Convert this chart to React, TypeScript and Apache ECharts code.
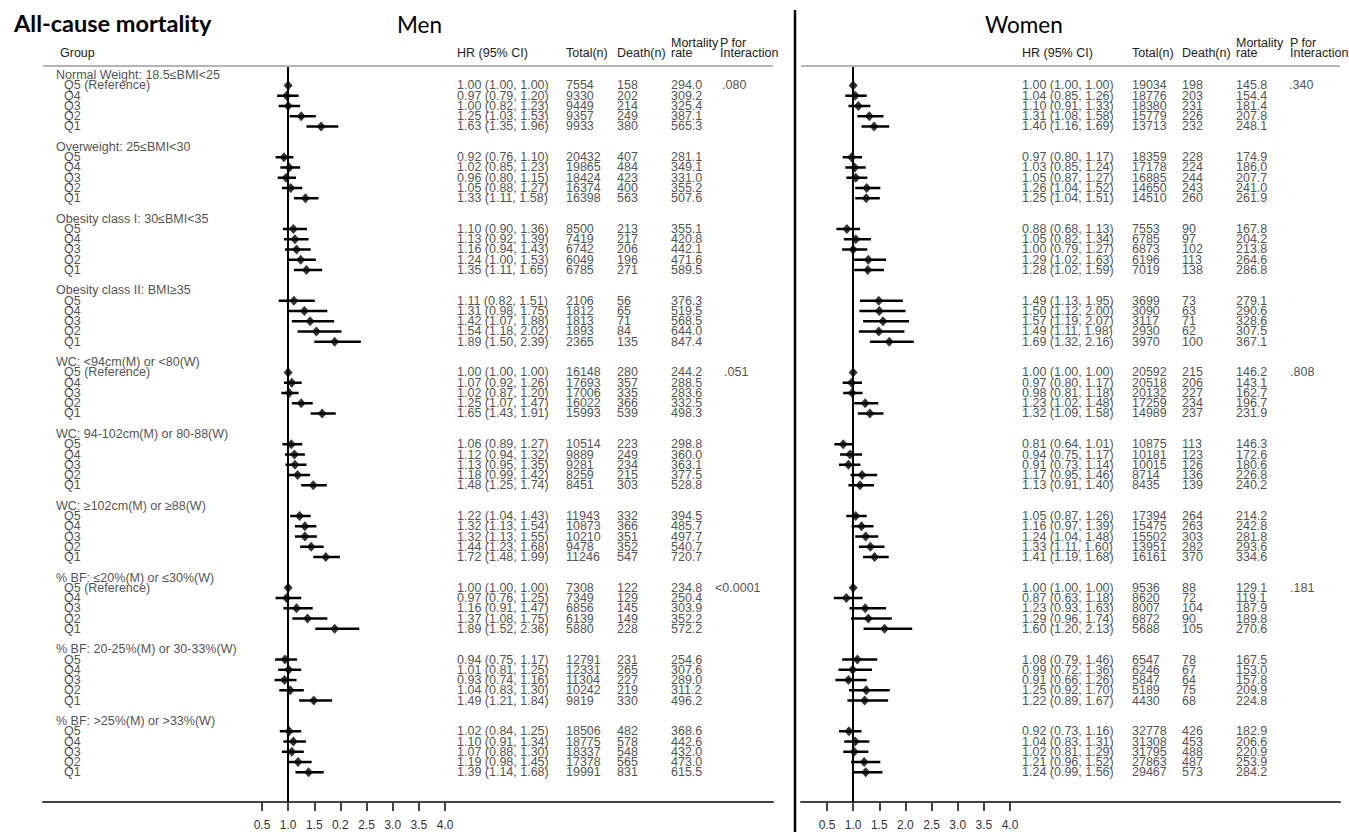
import React, { useEffect, useRef } from "react";
import * as echarts from "echarts";

// ---------------- DATA ----------------
const groupLabels = [
  "Normal Weight: 18.5≤BMI<25",
  "Overweight: 25≤BMI<30",
  "Obesity class I: 30≤BMI<35",
  "Obesity class II: BMI≥35",
  "WC: <94cm(M) or <80(W)",
  "WC: 94-102cm(M) or 80-88(W)",
  "WC: ≥102cm(M) or ≥88(W)",
  "% BF: ≤20%(M) or ≤30%(W)",
  "% BF: 20-25%(M) or 30-33%(W)",
  "% BF: >25%(M) or >33%(W)",
];
const referenceGroups = [0, 4, 7];
const quintiles = ["Q5", "Q4", "Q3", "Q2", "Q1"];

const menHR = [
  1.0, 0.97, 1.0, 1.25, 1.63,
  0.92, 1.02, 0.96, 1.05, 1.33,
  1.1, 1.13, 1.16, 1.24, 1.35,
  1.11, 1.31, 1.42, 1.54, 1.89,
  1.0, 1.07, 1.02, 1.25, 1.65,
  1.06, 1.12, 1.13, 1.18, 1.48,
  1.22, 1.32, 1.32, 1.44, 1.72,
  1.0, 0.97, 1.16, 1.37, 1.89,
  0.94, 1.01, 0.93, 1.04, 1.49,
  1.02, 1.1, 1.07, 1.19, 1.39,
];
const menLo = [
  1.0, 0.79, 0.82, 1.03, 1.35,
  0.76, 0.85, 0.8, 0.88, 1.11,
  0.9, 0.92, 0.94, 1.0, 1.11,
  0.82, 0.98, 1.07, 1.18, 1.5,
  1.0, 0.92, 0.87, 1.07, 1.43,
  0.89, 0.94, 0.95, 0.99, 1.25,
  1.04, 1.13, 1.13, 1.23, 1.48,
  1.0, 0.76, 0.91, 1.08, 1.52,
  0.75, 0.81, 0.74, 0.83, 1.21,
  0.84, 0.91, 0.88, 0.98, 1.14,
];
const menHi = [
  1.0, 1.2, 1.23, 1.53, 1.96,
  1.1, 1.23, 1.15, 1.27, 1.58,
  1.36, 1.39, 1.43, 1.53, 1.65,
  1.51, 1.75, 1.88, 2.02, 2.39,
  1.0, 1.26, 1.2, 1.47, 1.91,
  1.27, 1.32, 1.35, 1.42, 1.74,
  1.43, 1.54, 1.55, 1.68, 1.99,
  1.0, 1.25, 1.47, 1.75, 2.36,
  1.17, 1.25, 1.16, 1.3, 1.84,
  1.25, 1.34, 1.3, 1.45, 1.68,
];
const menTotal = [
  7554, 9330, 9449, 9357, 9933,
  20432, 19865, 18424, 16374, 16398,
  8500, 7419, 6742, 6049, 6785,
  2106, 1812, 1813, 1893, 2365,
  16148, 17693, 17006, 16022, 15993,
  10514, 9889, 9281, 8259, 8451,
  11943, 10873, 10210, 9478, 11246,
  7308, 7349, 6856, 6139, 5880,
  12791, 12331, 11304, 10242, 9819,
  18506, 18775, 18337, 17378, 19991,
];
const menDeath = [
  158, 202, 214, 249, 380,
  407, 484, 423, 400, 563,
  213, 217, 206, 196, 271,
  56, 65, 71, 84, 135,
  280, 357, 335, 366, 539,
  223, 249, 234, 215, 303,
  332, 366, 351, 352, 547,
  122, 129, 145, 149, 228,
  231, 265, 227, 219, 330,
  482, 578, 548, 565, 831,
];
const menRate = [
  "294.0", "309.2", "325.4", "387.1", "565.3",
  "281.1", "349.1", "331.0", "355.2", "507.6",
  "355.1", "420.8", "442.1", "471.6", "589.5",
  "376.3", "519.5", "568.5", "644.0", "847.4",
  "244.2", "288.5", "283.6", "332.5", "498.3",
  "298.8", "360.0", "363.1", "377.5", "528.8",
  "394.5", "485.7", "497.7", "540.7", "720.7",
  "234.8", "250.4", "303.9", "352.2", "572.2",
  "254.6", "307.6", "289.0", "311.2", "496.2",
  "368.6", "442.6", "432.0", "473.0", "615.5",
];
const menP = [".080", "", "", "", ".051", "", "", "<0.0001", "", ""];

const womenHR = [
  1.0, 1.04, 1.1, 1.31, 1.4,
  0.97, 1.03, 1.05, 1.26, 1.25,
  0.88, 1.05, 1.0, 1.29, 1.28,
  1.49, 1.5, 1.57, 1.49, 1.69,
  1.0, 0.97, 0.98, 1.23, 1.32,
  0.81, 0.94, 0.91, 1.17, 1.13,
  1.05, 1.16, 1.24, 1.33, 1.41,
  1.0, 0.87, 1.23, 1.29, 1.6,
  1.08, 0.99, 0.91, 1.25, 1.22,
  0.92, 1.04, 1.02, 1.21, 1.24,
];
const womenLo = [
  1.0, 0.85, 0.91, 1.08, 1.16,
  0.8, 0.85, 0.87, 1.04, 1.04,
  0.68, 0.82, 0.79, 1.02, 1.02,
  1.13, 1.12, 1.19, 1.11, 1.32,
  1.0, 0.8, 0.81, 1.02, 1.09,
  0.64, 0.75, 0.73, 0.95, 0.91,
  0.87, 0.97, 1.04, 1.11, 1.19,
  1.0, 0.63, 0.93, 0.96, 1.2,
  0.79, 0.72, 0.66, 0.92, 0.89,
  0.73, 0.83, 0.81, 0.96, 0.99,
];
const womenHi = [
  1.0, 1.26, 1.33, 1.58, 1.69,
  1.17, 1.24, 1.27, 1.52, 1.51,
  1.13, 1.34, 1.27, 1.63, 1.59,
  1.95, 2.0, 2.07, 1.98, 2.16,
  1.0, 1.17, 1.18, 1.48, 1.58,
  1.01, 1.17, 1.14, 1.46, 1.4,
  1.26, 1.39, 1.48, 1.6, 1.68,
  1.0, 1.18, 1.63, 1.74, 2.13,
  1.46, 1.36, 1.26, 1.7, 1.67,
  1.16, 1.31, 1.29, 1.52, 1.56,
];
const womenTotal = [
  19034, 18776, 18380, 15779, 13713,
  18359, 17178, 16885, 14650, 14510,
  7553, 6785, 6873, 6196, 7019,
  3699, 3090, 3117, 2930, 3970,
  20592, 20518, 20132, 17259, 14989,
  10875, 10181, 10015, 8714, 8435,
  17394, 15475, 15502, 13951, 16161,
  9536, 8620, 8007, 6872, 5688,
  6547, 6246, 5847, 5189, 4430,
  32778, 31308, 31795, 27863, 29467,
];
const womenDeath = [
  198, 203, 231, 226, 232,
  228, 224, 244, 243, 260,
  90, 97, 102, 113, 138,
  73, 63, 71, 62, 100,
  215, 206, 227, 234, 237,
  113, 123, 126, 136, 139,
  264, 263, 303, 282, 370,
  88, 72, 104, 90, 105,
  78, 67, 64, 75, 68,
  426, 453, 488, 487, 573,
];
const womenRate = [
  "145.8", "154.4", "181.4", "207.8", "248.1",
  "174.9", "186.0", "207.7", "241.0", "261.9",
  "167.8", "204.2", "213.8", "264.6", "286.8",
  "279.1", "290.6", "328.6", "307.5", "367.1",
  "146.2", "143.1", "162.7", "196.7", "231.9",
  "146.3", "172.6", "180.6", "226.8", "240.2",
  "214.2", "242.8", "281.8", "293.6", "334.6",
  "129.1", "119.1", "187.9", "189.8", "270.6",
  "167.5", "153.0", "157.8", "209.9", "224.8",
  "182.9", "206.6", "220.9", "253.9", "284.2",
];
const womenP = [".340", "", "", "", ".808", "", "", ".181", "", ""];

const tickValues = [0.5, 1.0, 1.5, 2.0, 2.5, 3.0, 3.5, 4.0];
const menTickLabels = ["0.5", "1.0", "1.5", "0.2", "2.5", "3.0", "3.5", "4.0"];
const womenTickLabels = ["0.5", "1.0", "1.5", "2.0", "2.5", "3.0", "3.5", "4.0"];

// ---------------- LAYOUT ----------------
const W = 1349;
const H = 832;
const TOP = 66;
const AXIS_Y = 802;
const ROW_MIN = -0.9;
const ROW_MAX = 70.9;
const PX_PER_UNIT = 183 / 3.5;
const FONT = "'Liberation Sans', Arial, Helvetica, sans-serif";
const TITLE_FONT = "Lato, 'Open Sans', sans-serif";
const TXT = "#222";
const FS = 12.5;

const rowOf = (g: number, i: number) => g * 7 + 1 + i;
const fmt = (v: number) => v.toFixed(2);

type Panel = {
  left: number;
  right: number;
  x05: number;
  hr: number[];
  lo: number[];
  hi: number[];
  total: number[];
  death: number[];
  rate: string[];
  p: string[];
  tickLabels: string[];
  cols: { hr: number; total: number; death: number; rate: number; pHead: number };
  pX: number[];
};

const panels: Panel[] = [
  {
    left: 43, right: 773, x05: 262,
    hr: menHR, lo: menLo, hi: menHi, total: menTotal, death: menDeath, rate: menRate, p: menP,
    tickLabels: menTickLabels,
    cols: { hr: 457, total: 566, death: 617, rate: 671, pHead: 720 },
    pX: [722, 724, 715],
  },
  {
    left: 801, right: 1340, x05: 827,
    hr: womenHR, lo: womenLo, hi: womenHi, total: womenTotal, death: womenDeath, rate: womenRate, p: womenP,
    tickLabels: womenTickLabels,
    cols: { hr: 1022, total: 1132, death: 1182, rate: 1236, pHead: 1290 },
    pX: [1289, 1290, 1290],
  },
];

function textSeries(items: { x: number; row: number; text: string }[]) {
  return {
    type: "scatter",
    xAxisIndex: 2,
    yAxisIndex: 2,
    silent: true,
    symbolSize: 0,
    itemStyle: { color: "transparent" },
    data: items.map((it) => ({ name: it.text, value: [it.x, it.row] })),
    label: {
      show: true,
      position: "right",
      distance: 0,
      formatter: (p: any) => p.name,
      color: TXT,
      fontSize: FS,
      lineHeight: 10,
      fontFamily: FONT,
    },
    emphasis: { disabled: true },
  };
}

function buildOption() {
  const grids: any[] = [];
  const xAxes: any[] = [];
  const yAxes: any[] = [];
  const series: any[] = [];

  panels.forEach((pn, k) => {
    grids.push({ left: pn.left, width: pn.right - pn.left, top: TOP, height: AXIS_Y - TOP });
    const min = 0.5 - (pn.x05 - pn.left) / PX_PER_UNIT;
    const max = 4.0 + (pn.right - (pn.x05 + 3.5 * PX_PER_UNIT)) / PX_PER_UNIT;
    xAxes.push({
      type: "value",
      gridIndex: k,
      min,
      max,
      axisLine: { show: true, onZero: false, lineStyle: { color: "#444", width: 2 } },
      axisTick: { show: true, customValues: tickValues, length: 9, lineStyle: { color: "#444", width: 2 } },
      axisLabel: {
        customValues: tickValues,
        formatter: (v: number) => {
          const i = tickValues.findIndex((t) => Math.abs(t - v) < 1e-6);
          return i >= 0 ? pn.tickLabels[i] : "";
        },
        color: "#333",
        fontSize: 12,
        fontFamily: FONT,
        margin: 17,
      },
      splitLine: { show: false },
    });
    yAxes.push({ type: "value", gridIndex: k, min: ROW_MIN, max: ROW_MAX, inverse: true, show: false });

    const ciData: number[][] = [];
    const ptData: number[][] = [];
    pn.hr.forEach((v, idx) => {
      const g = Math.floor(idx / 5);
      const i = idx % 5;
      const row = rowOf(g, i);
      ptData.push([v, row]);
      if (pn.hi[idx] > pn.lo[idx]) ciData.push([pn.lo[idx], pn.hi[idx], row]);
    });

    series.push({
      type: "custom",
      xAxisIndex: k,
      yAxisIndex: k,
      silent: true,
      data: ciData,
      encode: { x: [0, 1], y: 2 },
      renderItem: (params: any, api: any) => {
        const a = api.coord([api.value(0), api.value(2)]);
        const b = api.coord([api.value(1), api.value(2)]);
        return {
          type: "line",
          shape: { x1: a[0], y1: a[1], x2: b[0], y2: b[1] },
          style: { stroke: "#000", lineWidth: 2.5 },
        };
      },
    });
    series.push({
      type: "scatter",
      xAxisIndex: k,
      yAxisIndex: k,
      silent: true,
      symbol: "diamond",
      symbolSize: [9, 10],
      itemStyle: { color: "#000" },
      data: ptData,
      z: 5,
      markLine: {
        silent: true,
        symbol: "none",
        label: { show: false },
        animation: false,
        data: [
          { xAxis: 1, lineStyle: { color: "#000", width: 2, type: "solid" } },
          { yAxis: ROW_MIN, lineStyle: { color: "#b5b5b5", width: 2, type: "solid" } },
        ],
      },
    });

    // table texts
    const hrTxt: any[] = [];
    const totTxt: any[] = [];
    const dthTxt: any[] = [];
    const rateTxt: any[] = [];
    pn.hr.forEach((v, idx) => {
      const g = Math.floor(idx / 5);
      const i = idx % 5;
      const row = rowOf(g, i);
      hrTxt.push({ x: pn.cols.hr, row, text: `${fmt(v)} (${fmt(pn.lo[idx])}, ${fmt(pn.hi[idx])})` });
      totTxt.push({ x: pn.cols.total, row, text: String(pn.total[idx]) });
      dthTxt.push({ x: pn.cols.death, row, text: String(pn.death[idx]) });
      rateTxt.push({ x: pn.cols.rate, row, text: pn.rate[idx] });
    });
    const pTxt: any[] = [];
    let pi = 0;
    pn.p.forEach((p, g) => {
      if (p) {
        pTxt.push({ x: pn.pX[pi], row: rowOf(g, 0), text: p });
        pi++;
      }
    });
    series.push(textSeries(hrTxt), textSeries(totTxt), textSeries(dthTxt), textSeries(rateTxt), textSeries(pTxt));
  });

  // full-width text grid
  grids.push({ left: 0, width: W, top: TOP, height: AXIS_Y - TOP });
  xAxes.push({ type: "value", gridIndex: 2, min: 0, max: W, show: false });
  yAxes.push({ type: "value", gridIndex: 2, min: ROW_MIN, max: ROW_MAX, inverse: true, show: false });

  const labelTxt: any[] = [];
  groupLabels.forEach((lab, g) => {
    labelTxt.push({ x: 56, row: g * 7, text: lab });
    quintiles.forEach((q, i) => {
      const t = i === 0 && referenceGroups.includes(g) ? `${q} (Reference)` : q;
      labelTxt.push({ x: 64, row: rowOf(g, i), text: t });
    });
  });
  series.push(textSeries(labelTxt));

  const hdr = (x: number, y: number, text: string) => ({
    type: "text",
    x,
    y,
    silent: true,
    style: {
      text,
      fill: TXT,
      fontSize: FS,
      fontFamily: FONT,
      lineHeight: 10,
      textAlign: "left",
      textVerticalAlign: "middle",
    },
  });

  const graphic: any[] = [
    {
      type: "line",
      silent: true,
      shape: { x1: 795, y1: 10, x2: 795, y2: H },
      style: { stroke: "#000", lineWidth: 2.5 },
    },
    {
      type: "text", x: 14, y: 23, silent: true,
      style: { text: "All-cause mortality", fill: "#000", fontSize: 23.5, fontWeight: "bold", fontFamily: TITLE_FONT, textVerticalAlign: "middle" },
    },
    {
      type: "text", x: 397, y: 24, silent: true,
      style: { text: "Men", fill: "#000", fontSize: 22.5, fontFamily: TITLE_FONT, textVerticalAlign: "middle" },
    },
    {
      type: "text", x: 985, y: 24, silent: true,
      style: { text: "Women", fill: "#000", fontSize: 22.5, fontFamily: TITLE_FONT, textVerticalAlign: "middle" },
    },
    hdr(60, 53, "Group"),
  ];
  panels.forEach((pn) => {
    graphic.push(
      hdr(pn.cols.hr, 53, "HR (95% CI)"),
      hdr(pn.cols.total, 53, "Total(n)"),
      hdr(pn.cols.death, 53, "Death(n)"),
      hdr(pn.cols.rate, 43, "Mortality"),
      hdr(pn.cols.rate, 53, "rate"),
      hdr(pn.cols.pHead, 43, "P for"),
      hdr(pn.cols.pHead, 53, "Interaction")
    );
  });

  return {
    animation: false,
    backgroundColor: "#fff",
    textStyle: { fontFamily: FONT },
    grid: grids,
    xAxis: xAxes,
    yAxis: yAxes,
    series,
    graphic,
  };
}

export default function App() {
  const ref = useRef<HTMLDivElement>(null);
  useEffect(() => {
    if (!ref.current) return;
    const chart = echarts.init(ref.current, undefined, { renderer: "svg" });
    chart.setOption(buildOption() as any);
    return () => chart.dispose();
  }, []);
  return (
    <div
      ref={ref}
      style={{ position: "fixed", left: 0, top: 0, width: W, height: H, background: "#fff" }}
    />
  );
}
